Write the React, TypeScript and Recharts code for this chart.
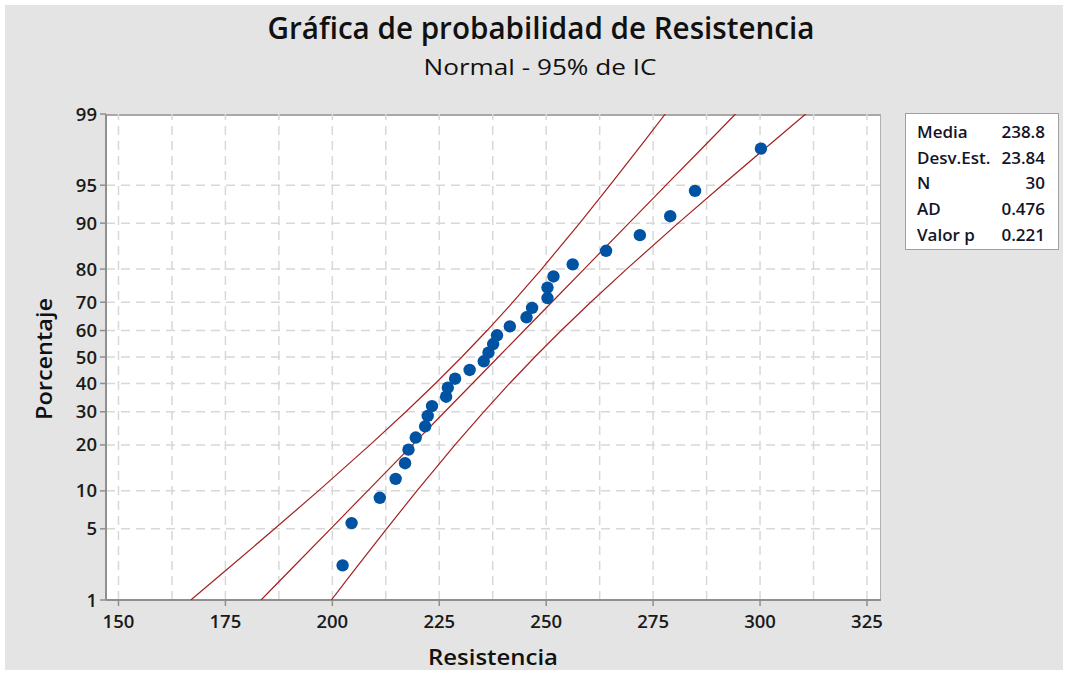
import React from 'react';
import { ComposedChart, Scatter, XAxis, YAxis, ReferenceLine } from 'recharts';

const resistencia = [
  202.4, 204.5, 211.1, 214.8, 217.0, 217.8, 219.5, 221.7, 222.3, 223.3,
  226.6, 227.0, 228.7, 232.1, 235.4, 236.5, 237.6, 238.5, 241.5, 245.4,
  246.7, 250.3, 250.3, 251.7, 256.2, 264.0, 271.9, 279.0, 284.8, 300.2,
];
// Plotted percentages (median ranks) for each observation
const porcentajePuntos = [
  2.303, 5.592, 8.882, 12.171, 15.461, 18.750, 22.039, 25.329, 28.618, 31.908,
  35.197, 38.487, 41.776, 45.066, 48.355, 51.645, 54.934, 58.224, 61.513, 64.803,
  68.092, 71.382, 74.671, 77.961, 81.250, 84.539, 87.829, 91.118, 94.408, 97.697,
];
// Fitted line and 95% CI bands, at these percentages
const bandPercents = [1, 2, 5, 10, 20, 30, 40, 50, 60, 70, 80, 90, 95, 98, 99];
const fitLine = [183.34, 189.83, 199.59, 208.25, 218.74, 226.30, 232.76, 238.80, 244.84, 251.30, 258.86, 269.35, 278.01, 287.77, 294.26];
const lowerBand = [166.92, 174.79, 186.50, 196.74, 208.81, 217.20, 224.09, 230.27, 236.17, 242.20, 248.93, 257.84, 264.92, 272.73, 277.84];
const upperBand = [199.76, 204.87, 212.68, 219.76, 228.67, 235.40, 241.43, 247.33, 253.51, 260.40, 268.79, 280.86, 291.10, 302.81, 310.68];

const yTickPercents = [1, 5, 10, 20, 30, 40, 50, 60, 70, 80, 90, 95, 99];
const yGridPercents = [5, 10, 20, 30, 40, 50, 60, 70, 80, 90, 95];
const xTicks = [150, 175, 200, 225, 250, 275, 300, 325];
const xGrid = [150, 162.5, 175, 187.5, 200, 212.5, 225, 237.5, 250, 262.5, 275, 287.5, 300, 312.5, 325];
const statLabels = ['Media', 'Desv.Est.', 'N', 'AD', 'Valor p'];
const statValues = ['238.8', '23.84', '30', '0.476', '0.221'];

// Probability (normal) scale transform: percent -> z
function probit(p: number): number {
  const a = [-3.969683028665376e1, 2.209460984245205e2, -2.759285104469687e2, 1.38357751867269e2, -3.066479806614716e1, 2.506628277459239];
  const b = [-5.447609879822406e1, 1.615858368580409e2, -1.556989798598866e2, 6.680131188771972e1, -1.328068155288572e1];
  const c = [-7.784894002430293e-3, -3.223964580411365e-1, -2.400758277161838, -2.549732539343734, 4.374664141464968, 2.938163982698783];
  const d = [7.784695709041462e-3, 3.224671290700398e-1, 2.445134137142996, 3.754408661907416];
  const plow = 0.02425;
  if (p < plow) {
    const q = Math.sqrt(-2 * Math.log(p));
    return (((((c[0] * q + c[1]) * q + c[2]) * q + c[3]) * q + c[4]) * q + c[5]) / ((((d[0] * q + d[1]) * q + d[2]) * q + d[3]) * q + 1);
  }
  if (p <= 1 - plow) {
    const q = p - 0.5;
    const r = q * q;
    return ((((((a[0] * r + a[1]) * r + a[2]) * r + a[3]) * r + a[4]) * r + a[5]) * q) / (((((b[0] * r + b[1]) * r + b[2]) * r + b[3]) * r + b[4]) * r + 1);
  }
  const q = Math.sqrt(-2 * Math.log(1 - p));
  return -(((((c[0] * q + c[1]) * q + c[2]) * q + c[3]) * q + c[4]) * q + c[5]) / ((((d[0] * q + d[1]) * q + d[2]) * q + d[3]) * q + 1);
}
const pz = (pct: number) => probit(pct / 100);

const pointsData = resistencia.map((x, i) => ({ x, z: pz(porcentajePuntos[i]) }));
const fitData = bandPercents.map((p, i) => ({ x: fitLine[i], z: pz(p) }));
const lowerData = bandPercents.map((p, i) => ({ x: lowerBand[i], z: pz(p) }));
const upperData = bandPercents.map((p, i) => ({ x: upperBand[i], z: pz(p) }));
const yTickZ = yTickPercents.map(pz);

const FONT = '"Open Sans", "Noto Sans", sans-serif';
const RED = '#a32020';
const BLUE = '#0052a3';
const GRID = '#d8d8d8';
const AXIS = '#8f8f8f';

const PLOT_L = 106, PLOT_T = 114, PLOT_R = 881, PLOT_B = 600;
const Y_AXIS_W = 60, X_AXIS_H = 40;

const Dot = (props: any) => <circle cx={props.cx} cy={props.cy} r={6.2} fill={BLUE} />;
const NoDot = () => <g />;

export default function App() {
  const fmtY = (v: number) => {
    let best = 0;
    yTickZ.forEach((z, i) => { if (Math.abs(z - v) < Math.abs(yTickZ[best] - v)) best = i; });
    return String(yTickPercents[best]);
  };
  return (
    <div style={{ position: 'absolute', left: 0, top: 0, width: 1068, height: 675, background: '#ffffff', fontFamily: FONT }}>
      <div style={{ position: 'absolute', left: 5, top: 5, width: 1058, height: 665, background: '#e4e4e4' }} />
      <div style={{ position: 'absolute', left: PLOT_L, top: PLOT_T, width: PLOT_R - PLOT_L, height: PLOT_B - PLOT_T, background: '#ffffff', boxSizing: 'border-box', borderTop: '2px solid #a8a8a8', borderRight: '1px solid #b0b0b0' }} />
      <div style={{ position: 'absolute', left: 0, top: 0 }}>
        <ComposedChart
          width={1068}
          height={675}
          margin={{ top: PLOT_T, left: PLOT_L - Y_AXIS_W, right: 1068 - PLOT_R, bottom: 675 - PLOT_B - X_AXIS_H }}
        >
          <XAxis
            type="number"
            dataKey="x"
            domain={[147.08, 328.28]}
            ticks={xTicks}
            allowDataOverflow
            height={X_AXIS_H}
            tickSize={6}
            tickMargin={9}
            axisLine={{ stroke: AXIS, strokeWidth: 2 }}
            tickLine={{ stroke: AXIS, strokeWidth: 1.5 }}
            tick={{ fill: '#1a1a1a', fontSize: 18.5, fontWeight: 600, fontFamily: FONT }}
          />
          <YAxis
            type="number"
            dataKey="z"
            domain={[pz(1), pz(99)]}
            ticks={yTickZ}
            tickFormatter={fmtY}
            allowDataOverflow
            width={Y_AXIS_W}
            tickSize={6}
            tickMargin={3}
            axisLine={{ stroke: AXIS, strokeWidth: 2 }}
            tickLine={{ stroke: AXIS, strokeWidth: 1.5 }}
            tick={{ fill: '#1a1a1a', fontSize: 18.5, fontWeight: 600, fontFamily: FONT }}
          />
          {xGrid.map((v) => (
            <ReferenceLine key={'gx' + v} x={v} stroke={GRID} strokeWidth={1.5} strokeDasharray="9 6" ifOverflow="hidden" />
          ))}
          {yGridPercents.map((p) => (
            <ReferenceLine key={'gy' + p} y={pz(p)} stroke={GRID} strokeWidth={1.5} strokeDasharray="9 6" />
          ))}
          <Scatter data={lowerData} line={{ stroke: RED, strokeWidth: 1.2 }} shape={NoDot} isAnimationActive={false} />
          <Scatter data={fitData} line={{ stroke: RED, strokeWidth: 1.2 }} shape={NoDot} isAnimationActive={false} />
          <Scatter data={upperData} line={{ stroke: RED, strokeWidth: 1.2 }} shape={NoDot} isAnimationActive={false} />
          <Scatter data={pointsData} shape={Dot} isAnimationActive={false} />
        </ComposedChart>
      </div>
      <svg width={1068} height={675} style={{ position: 'absolute', left: 0, top: 0, pointerEvents: 'none' }}>
        <text x={541} y={39} textAnchor="middle" fontSize={30} fontWeight={600} fill="#111" fontFamily={FONT} textLength={547} lengthAdjust="spacingAndGlyphs">
          Gráfica de probabilidad de Resistencia
        </text>
        <text x={540} y={75} textAnchor="middle" fontSize={21} fill="#111" fontFamily={FONT} textLength={233} lengthAdjust="spacingAndGlyphs">
          Normal - 95% de IC
        </text>
        <text x={493} y={665} textAnchor="middle" fontSize={21} fontWeight={600} fill="#111" fontFamily={FONT} textLength={130} lengthAdjust="spacingAndGlyphs">
          Resistencia
        </text>
        <text x={0} y={0} transform="translate(52 359) rotate(-90)" textAnchor="middle" fontSize={21} fontWeight={600} fill="#111" fontFamily={FONT} textLength={122} lengthAdjust="spacingAndGlyphs">
          Porcentaje
        </text>
        <rect x={905.5} y={113.5} width={153} height={136} fill="#ffffff" stroke="#a0a0a0" strokeWidth={1} />
        {statLabels.map((l, i) => (
          <g key={l}>
            <text x={917} y={138 + i * 25.7} fontSize={17} fontWeight={600} fill="#141428" fontFamily={FONT}>{l}</text>
            <text x={1045} y={138 + i * 25.7} fontSize={17} fontWeight={600} fill="#141428" fontFamily={FONT} textAnchor="end">{statValues[i]}</text>
          </g>
        ))}
      </svg>
    </div>
  );
}
